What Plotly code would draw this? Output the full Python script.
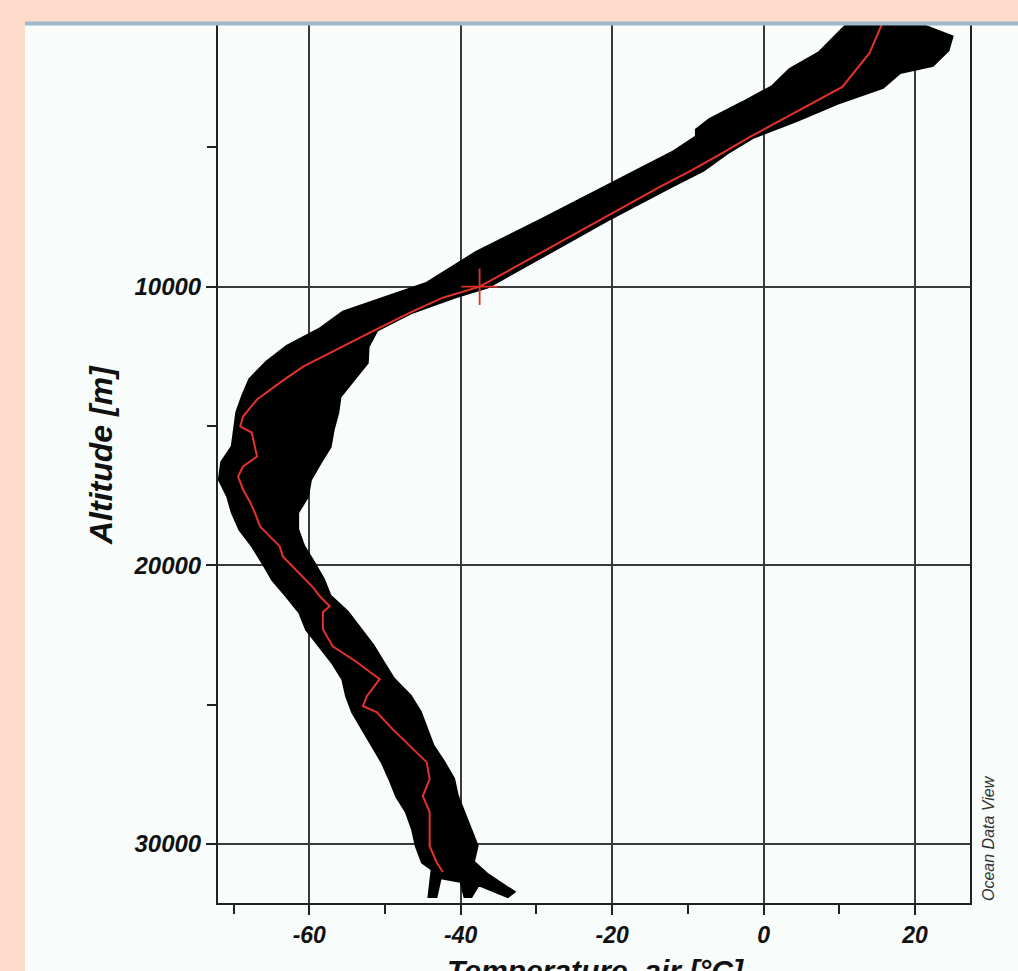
import plotly.graph_objects as go

# ---- data ----
# upper-left edge of the ensemble of profiles (temperature degC, altitude m)
left_temp = [11.1, 7.4, 3.5, 1.2, -2.7, -7.1, -8.8, -8.8, -12.0, -20.7, -29.2, -37.9, -44.5,
             -55.5, -58.6, -62.9, -65.6, -67.8, -68.75, -69.5, -69.8, -70.1, -71.5, -71.8,
             -70.7, -70.1, -69.1, -67.4, -66.1, -64.8, -62.9, -61.2, -60.3, -58.6, -56.9,
             -55.5, -55.0, -54.2, -52.9, -51.6, -50.3, -49.3, -48.4, -47.1, -46.3, -45.8,
             -45.0, -43.7, -44.1, -43.3, -42.75, -39.9, -39.4, -38.65, -37.7, -33.8, -33.1]
left_alt = [600, 1613, 2222, 2832, 3405, 4015, 4373, 4624, 5197, 6416, 7599, 8781, 9900,
            10932, 11541, 12150, 12724, 13333, 13942, 14516, 15125, 15734, 16308, 16917,
            17526, 18100, 18709, 19318, 19892, 20501, 21110, 21684, 22293, 22902, 23476,
            24085, 24694, 25268, 25877, 26486, 27060, 27669, 28278, 28852, 29461, 30070,
            30644, 30895, 31862, 31862, 31181, 31325, 31862, 31862, 31433, 31862, 31719]

# lower-right edge of the ensemble, listed from the bottom upwards
right_temp = [-36.5, -38.4, -37.9, -38.8, -39.7, -40.5, -41.0, -42.3, -43.7, -44.5, -45.4,
              -46.7, -48.9, -50.3, -51.6, -53.3, -55.0, -57.3, -58.2, -59.5, -60.8, -61.6,
              -61.6, -60.3, -59.9, -58.6, -57.3, -56.9, -56.3, -56.0, -54.2, -52.4, -52.3,
              -51.1, -46.7, -40.8, -36.5, -28.6, -20.7, -12.4, -8.0, -4.9, -1.4, 4.4, 9.7,
              15.7, 18.0, 22.3, 24.3, 24.8, 20.6]
right_alt = [31110, 30644, 30070, 29461, 28852, 28278, 27669, 27060, 26486, 25877, 25268,
             24694, 24085, 23476, 22902, 22293, 21684, 21110, 20501, 19892, 19318, 18709,
             18100, 17526, 16917, 16308, 15734, 15125, 14516, 13942, 13333, 12724, 12150,
             11541, 10932, 10358, 10000, 8781, 7599, 6416, 5807, 5197, 4624, 4015, 3405,
             2832, 2294, 2043, 1506, 1040, 600]

# mean profile (red)
mean_temp = [15.6, 14.0, 10.4, 6.5, 2.5, -1.8, -5.4, -9.4, -13.7, -21.6, -29.5, -37.5,
             -42.35, -46.7, -52.0, -56.3, -60.8, -63.5, -66.9, -68.75, -69.1, -67.6, -67.2,
             -66.9, -68.75, -69.4, -68.75, -67.8, -67.2, -66.5, -65.2, -63.9, -63.5, -62.2,
             -60.8, -59.5, -58.6, -57.3, -58.2, -58.2, -56.9, -53.7, -50.7, -52.4, -52.9,
             -51.1, -49.0, -46.7, -44.5, -44.1, -45.0, -44.1, -44.1, -44.1, -43.2, -42.35]
mean_alt = [600, 1613, 2832, 3405, 4015, 4624, 5197, 5807, 6416, 7599, 8781, 10000,
            10394, 10932, 11649, 12258, 12867, 13369, 14050, 14659, 15018, 15233, 15734,
            16093, 16451, 16810, 17276, 17742, 18100, 18602, 18960, 19318, 19677, 20035,
            20394, 20788, 21110, 21469, 21684, 22293, 22902, 23476, 24085, 24694, 25053,
            25268, 25877, 26486, 27060, 27669, 28278, 28852, 29461, 30070, 30644, 31002]

marker_temp = [-37.5]
marker_alt = [10000]

x_ticks = [-60, -40, -20, 0, 20]
y_ticks = [10000, 20000, 30000]

# ---- figure ----
W, H = 1018, 971
L, R, T, B = 218, 48, 24, 68   # plot frame in pixels
pw, ph = W - L - R, H - T - B

def px_x(p):
    return (p - L) / pw

def px_y(p):
    return (H - B - p) / ph

fig = go.Figure()

band_x = left_temp + right_temp + [left_temp[0]]
band_y = left_alt + right_alt + [left_alt[0]]
fig.add_trace(go.Scatter(x=band_x, y=band_y, mode="lines", fill="toself",
                         fillcolor="#000000", line=dict(color="#000000", width=4),
                         hoverinfo="skip", showlegend=False))
fig.add_trace(go.Scatter(x=mean_temp, y=mean_alt, mode="lines",
                         line=dict(color="#E3322B", width=2), showlegend=False))
fig.add_trace(go.Scatter(x=marker_temp, y=marker_alt, mode="markers",
                         marker=dict(symbol="cross-thin", size=26,
                                     line=dict(color="#E3322B", width=1.8)),
                         showlegend=False))

axis_common = dict(showline=True, linecolor="#222222", linewidth=2, mirror=True,
                   showgrid=True, gridcolor="#3a3a3a", gridwidth=2, zeroline=False,
                   ticks="outside", ticklen=10, tickwidth=2, tickcolor="#222222")

fig.update_xaxes(range=[-72.05, 27.26], tickvals=x_ticks,
                 ticktext=[str(v) for v in x_ticks],
                 tickfont=dict(family="Liberation Sans", size=23, color="#111111",
                               weight="bold", style="italic"),
                 minor=dict(dtick=10, tick0=0, ticks="outside", ticklen=9, tickwidth=2,
                            tickcolor="#222222", showgrid=False),
                 **axis_common)
fig.update_yaxes(range=[32115, 574], tickvals=y_ticks,
                 ticktext=[str(v) for v in y_ticks],
                 tickfont=dict(family="Liberation Sans", size=24, color="#111111",
                               weight="bold", style="italic"),
                 minor=dict(dtick=5000, tick0=0, ticks="outside", ticklen=9, tickwidth=2,
                            tickcolor="#222222", showgrid=False),
                 **axis_common)

fig.update_layout(
    width=W, height=H,
    margin=dict(l=L, r=R, t=T, b=B, pad=0),
    paper_bgcolor="#FDDBCA",
    plot_bgcolor="#F8FCFA",
    shapes=[
        dict(type="rect", xref="paper", yref="paper", layer="below",
             x0=px_x(25), x1=px_x(1030), y0=px_y(24), y1=px_y(990),
             fillcolor="#F8FCFA", line=dict(width=0)),
        dict(type="line", xref="paper", yref="paper", layer="above",
             x0=px_x(25), x1=px_x(1030), y0=px_y(23.5), y1=px_y(23.5),
             line=dict(color="#9DB9C9", width=4)),
    ],
    annotations=[
        dict(text="Altitude [m]", xref="paper", yref="paper", x=px_x(101), y=px_y(455),
             showarrow=False, textangle=-90, xanchor="center", yanchor="middle",
             font=dict(family="Liberation Sans", size=32, color="#111111",
                       weight="bold", style="italic")),
        dict(text="Temperature, air [°C]", xref="paper", yref="paper", x=px_x(595),
             y=px_y(952), showarrow=False, xanchor="center", yanchor="top",
             font=dict(family="Liberation Sans", size=30, color="#111111",
                       weight="bold", style="italic")),
        dict(text="Ocean Data View", xref="paper", yref="paper", x=px_x(988),
             y=px_y(838), showarrow=False, textangle=-90, xanchor="center",
             yanchor="middle",
             font=dict(family="Liberation Sans", size=16, color="#333333",
                       style="italic")),
    ],
)

fig.write_html("out.html")
